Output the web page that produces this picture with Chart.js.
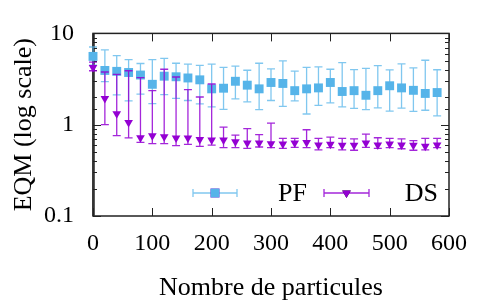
<!DOCTYPE html>
<html>
<head>
<meta charset="utf-8">
<script src="https://cdn.jsdelivr.net/npm/chart.js@4.4.1/dist/chart.umd.min.js"></script>
<style>
  html, body { margin: 0; padding: 0; background: #fff; }
  #wrap { width: 480px; height: 305px; }
</style>
</head>
<body>
<div id="wrap"><canvas id="chart"></canvas></div>
<script>
// Nombre de particules
const particles = [0, 20, 40, 60, 80, 100, 120, 140, 160, 180, 200, 220, 240, 260, 280,
                   300, 320, 340, 360, 380, 400, 420, 440, 460, 480, 500, 520, 540, 560, 580];

// PF : moyenne + barres d'erreur
const pfMean = [5.6, 3.93, 3.84, 3.73, 3.5, 2.77, 3.4, 3.35, 3.25, 3.1, 2.47, 2.51, 2.99, 2.71, 2.47,
                2.9, 2.83, 2.36, 2.47, 2.53, 2.9, 2.31, 2.36, 2.1, 2.36, 2.67, 2.53, 2.38, 2.2, 2.25];
const pfLow  = [4.5, 2.97, 2.12, 1.82, 2.16, 1.70, 2.14, 1.94, 1.84, 1.69, 1.57, 1.47, 1.92, 1.78, 1.46,
                1.84, 1.59, 1.82, 1.31, 1.63, 1.73, 1.57, 1.51, 1.46, 1.53, 1.41, 1.52, 1.40, 1.44, 1.25];
const pfHigh = [7.1, 6.6, 5.7, 5.16, 4.68, 5.16, 5.32, 4.71, 4.6, 4.47, 4.6, 4.24, 4.37, 3.95, 4.71,
                4.08, 5.0, 3.87, 4.24, 4.3, 4.05, 4.79, 4.02, 4.14, 4.43, 3.99, 4.64, 4.2, 5.08, 4.0];

// DS : moyenne + barres d'erreur
const dsMean = [4.24, 1.94, 1.32, 1.06, 0.72, 0.755, 0.74, 0.716, 0.716, 0.69, 0.68, 0.68, 0.65, 0.63, 0.63,
                0.62, 0.615, 0.63, 0.64, 0.60, 0.61, 0.596, 0.596, 0.63, 0.60, 0.615, 0.60, 0.596, 0.58, 0.60];
const dsLow  = [3.9, 1.0, 0.76, 0.716, 0.64, 0.62, 0.62, 0.59, 0.61, 0.58, 0.596, 0.56, 0.56, 0.55, 0.57,
                0.56, 0.55, 0.565, 0.56, 0.53, 0.56, 0.53, 0.525, 0.565, 0.55, 0.56, 0.545, 0.525, 0.53, 0.56];
const dsHigh = [4.85, 3.78, 3.56, 3.9, 3.27, 2.36, 4.05, 3.33, 2.42, 2.01, 2.79, 0.94, 0.77, 0.905, 0.78,
                1.04, 0.71, 0.71, 0.88, 0.71, 0.73, 0.71, 0.70, 0.79, 0.72, 0.71, 0.70, 0.67, 0.71, 0.71];

const yLabels = [0.1, 1, 10];
const xTicks = [0, 100, 200, 300, 400, 500, 600];

const PF_COLOR = '#56b4e9';
const DS_COLOR = '#9400d3';
const FONT = '"Liberation Serif", "DejaVu Serif", serif';

const toPoints = (ys) => particles.map((x, i) => ({ x: x, y: ys[i] }));

// error bars, drawn just before each dataset so markers sit on top
const errorBars = {
    id: 'errorBars',
    beforeDatasetDraw(chart, args) {
        const ds = chart.data.datasets[args.index];
        if (!ds.low) return;
        const { ctx, scales: { x, y } } = chart;
        ctx.save();
        ctx.strokeStyle = ds.barColor;
        ctx.lineWidth = 1.3;
        particles.forEach((p, i) => {
            const px = x.getPixelForValue(p);
            const top = y.getPixelForValue(ds.high[i]);
            const bot = y.getPixelForValue(ds.low[i]);
            ctx.beginPath();
            ctx.moveTo(px, top); ctx.lineTo(px, bot);
            ctx.moveTo(px - 4, top); ctx.lineTo(px + 4, top);
            ctx.moveTo(px - 4, bot); ctx.lineTo(px + 4, bot);
            ctx.stroke();
        });
        ctx.restore();
    }
};

// frame with inward tick marks (gnuplot look)
const frame = {
    id: 'frame',
    beforeDatasetsDraw(chart) {
        const { ctx, chartArea: a, scales: { x, y } } = chart;
        ctx.save();
        ctx.strokeStyle = '#222';
        ctx.lineWidth = 1.5;
        ctx.strokeRect(a.left, a.top, a.right - a.left, a.bottom - a.top);
        // y axis at x = 0 is a bit heavier
        ctx.strokeStyle = '#333';
        ctx.lineWidth = 2.6;
        ctx.beginPath();
        ctx.moveTo(a.left + 0.5, a.top); ctx.lineTo(a.left + 0.5, a.bottom);
        ctx.stroke();
        ctx.strokeStyle = '#222';
        ctx.lineWidth = 1;
        ctx.beginPath();
        xTicks.forEach((v) => {
            const px = Math.round(x.getPixelForValue(v)) + 0.5;
            ctx.moveTo(px, a.bottom); ctx.lineTo(px, a.bottom - 8);
            ctx.moveTo(px, a.top); ctx.lineTo(px, a.top + 8);
        });
        y.ticks.forEach((t) => {
            const py = Math.round(y.getPixelForValue(t.value)) + 0.5;
            const len = yLabels.includes(t.value) ? 8 : 4;
            ctx.moveTo(a.left, py); ctx.lineTo(a.left + len, py);
            ctx.moveTo(a.right, py); ctx.lineTo(a.right - len, py);
        });
        ctx.stroke();
        ctx.restore();
    }
};

// key inside the plot, bottom right
const key = {
    id: 'key',
    afterDraw(chart) {
        const { ctx, chartArea: a } = chart;
        const items = [
            { ds: chart.data.datasets[0], x0: 100, x1: 144, tx: 214 },
            { ds: chart.data.datasets[1], x0: 231, x1: 276, tx: 345 }
        ];
        const ky = a.bottom - 23;
        ctx.save();
        items.forEach((it) => {
            const l = a.left + it.x0, r = a.left + it.x1, m = (l + r) / 2;
            ctx.strokeStyle = it.ds.barColor;
            ctx.lineWidth = 1.3;
            ctx.beginPath();
            ctx.moveTo(l, ky); ctx.lineTo(r, ky);
            ctx.moveTo(l, ky - 4); ctx.lineTo(l, ky + 4);
            ctx.moveTo(r, ky - 4); ctx.lineTo(r, ky + 4);
            ctx.stroke();
            Chart.helpers.drawPoint(ctx, {
                pointStyle: it.ds.pointStyle, radius: it.ds.pointRadius,
                rotation: it.ds.rotation || 0, borderWidth: 0
            }, m, ky);
            ctx.fillStyle = it.ds.backgroundColor;
            ctx.fill();
            ctx.fillStyle = '#000';
            ctx.font = '26px ' + FONT;
            ctx.textAlign = 'right';
            ctx.textBaseline = 'middle';
            ctx.fillText(it.ds.label, a.left + it.tx, ky + 1);
        });
        ctx.restore();
    }
};

new Chart(document.getElementById('chart'), {
    type: 'scatter',
    data: {
        datasets: [
            {
                label: 'PF',
                data: toPoints(pfMean),
                low: pfLow, high: pfHigh,
                barColor: 'rgba(86, 180, 233, 0.75)',
                backgroundColor: PF_COLOR,
                borderWidth: 0,
                pointStyle: 'rect',
                pointRadius: 6.3,
                order: 2,
                clip: false
            },
            {
                label: 'DS',
                data: toPoints(dsMean),
                low: dsLow, high: dsHigh,
                barColor: 'rgba(148, 0, 211, 0.85)',
                backgroundColor: DS_COLOR,
                borderWidth: 0,
                pointStyle: 'triangle',
                rotation: 180,
                pointRadius: 5,
                order: 1,
                clip: false
            }
        ]
    },
    options: {
        responsive: true,
        maintainAspectRatio: false,
        animation: false,
        layout: { padding: { top: 14, right: 23, left: 0, bottom: 0 } },
        plugins: { legend: { display: false }, tooltip: { enabled: false } },
        scales: {
            x: {
                type: 'linear',
                min: 0, max: 600,
                afterFit: (s) => { s.height = 89; },
                grid: { display: false, drawTicks: false },
                border: { display: false },
                ticks: { stepSize: 100, padding: 13, color: '#000', font: { family: FONT, size: 24 } },
                title: { display: true, text: 'Nombre de particules', color: '#000',
                         padding: { top: 0, bottom: 1 }, font: { family: FONT, size: 26 } }
            },
            y: {
                type: 'logarithmic',
                min: 0.1, max: 10,
                afterFit: (s) => { s.width = 93; },
                grid: { display: false, drawTicks: false },
                border: { display: false },
                ticks: {
                    autoSkip: false, padding: 19, color: '#000',
                    font: { family: FONT, size: 24 },
                    callback: (v) => yLabels.includes(v) ? String(v) : ''
                },
                title: { display: true, text: 'EQM (log scale)', color: '#000',
                         padding: { top: 9, bottom: 0 }, font: { family: FONT, size: 26 } }
            }
        }
    },
    plugins: [frame, errorBars, key]
});
</script>
</body>
</html>
